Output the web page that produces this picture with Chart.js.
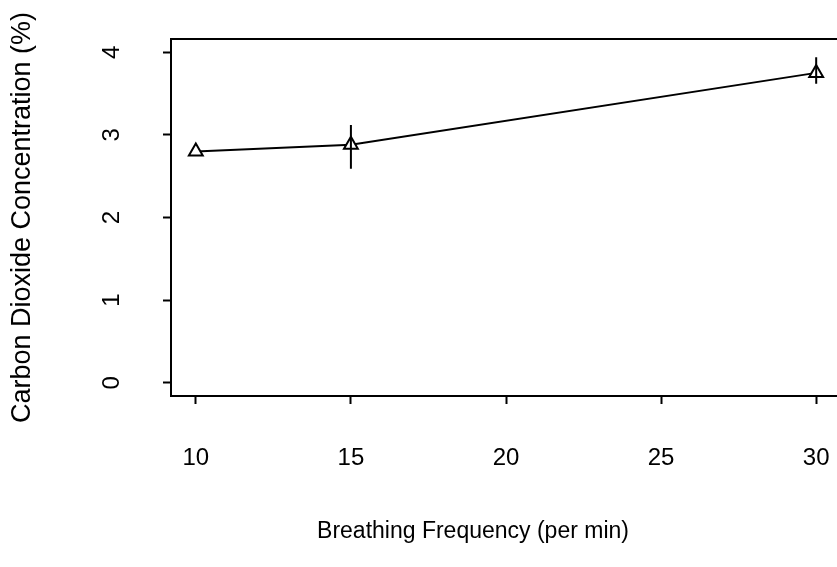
<!DOCTYPE html>
<html>
<head>
<meta charset="utf-8">
<script src="https://cdn.jsdelivr.net/npm/chart.js@4"></script>
<style>
  html, body { margin: 0; padding: 0; background: #fff; overflow: hidden; }
  #wrap { width: 851px; height: 567px; }
</style>
</head>
<body>
<div id="wrap"><canvas id="c" width="851" height="567"></canvas></div>
<script>
// Breathing frequency (per min) and mean CO2 concentration (%)
const frequency = [10, 15, 30];
const co2Mean = [2.80, 2.88, 3.75];
// Spread around each mean (lower / upper ends of the bar)
const co2Low = [2.80, 2.59, 3.62];
const co2High = [2.80, 3.12, 3.94];
const xTicks = [10, 15, 20, 25, 30];
const yTicks = [0, 1, 2, 3, 4];

const xTitle = 'Breathing Frequency (per min)';
const yTitle = 'Carbon Dioxide Concentration (%)';
const FONT = '"Liberation Sans", Arial, Helvetica, sans-serif';

// Keep the plotting box at fixed edges regardless of label sizes
function noScalePadding(s) {
  s.paddingLeft = 0; s.paddingRight = 0; s.paddingTop = 0; s.paddingBottom = 0;
}

// Box around the plotting region plus vertical spread bars and axis titles
const framePlugin = {
  id: 'frame',
  afterDatasetsDraw(chart) {
    const { ctx, chartArea: a, scales: { x, y } } = chart;
    ctx.save();
    ctx.strokeStyle = '#000';
    ctx.lineWidth = 2;
    ctx.strokeRect(a.left, a.top, a.right - a.left, a.bottom - a.top);
    ctx.beginPath();
    for (let i = 0; i < frequency.length; i++) {
      if (co2High[i] === co2Low[i]) continue;
      const px = x.getPixelForValue(frequency[i]);
      ctx.moveTo(px, y.getPixelForValue(co2High[i]));
      ctx.lineTo(px, y.getPixelForValue(co2Low[i]));
    }
    ctx.stroke();
    ctx.restore();
  },
  afterDraw(chart) {
    const { ctx, chartArea: a } = chart;
    ctx.save();
    ctx.fillStyle = '#000';
    ctx.textAlign = 'center';
    ctx.textBaseline = 'middle';
    ctx.font = '23px ' + FONT;
    ctx.fillText(xTitle, 473, 532);
    ctx.font = '27px ' + FONT;
    ctx.translate(23, (a.top + a.bottom) / 2);
    ctx.rotate(-Math.PI / 2);
    ctx.fillText(yTitle, 0, 0);
    ctx.restore();
  }
};

new Chart(document.getElementById('c'), {
  type: 'line',
  data: {
    datasets: [{
      data: frequency.map((f, i) => ({ x: f, y: co2Mean[i] })),
      borderColor: '#000',
      borderWidth: 2,
      tension: 0,
      pointStyle: 'triangle',
      pointRadius: 8,
      pointBackgroundColor: '#fff',
      pointBorderColor: '#000',
      pointBorderWidth: 2
    }]
  },
  options: {
    responsive: false,
    animation: false,
    events: [],
    layout: { padding: { left: 0, top: 39, right: 6, bottom: 0 } },
    plugins: { legend: { display: false }, tooltip: { enabled: false } },
    scales: {
      x: {
        type: 'linear',
        min: 9.2,
        max: 30.8,
        afterBuildTicks(s) { s.ticks = xTicks.map(v => ({ value: v })); },
        afterFit(s) { s.height = 567 - 396; noScalePadding(s); },
        border: { display: false },
        grid: { drawOnChartArea: false, drawTicks: true, tickLength: 8, tickWidth: 2, tickColor: '#000' },
        ticks: { color: '#000', font: { family: FONT, size: 24 }, padding: 40, maxRotation: 0, minRotation: 0 }
      },
      y: {
        type: 'linear',
        min: -0.16,
        max: 4.16,
        afterBuildTicks(s) { s.ticks = yTicks.map(v => ({ value: v })); },
        afterFit(s) { s.width = 171; noScalePadding(s); },
        border: { display: false },
        grid: { drawOnChartArea: false, drawTicks: true, tickLength: 8, tickWidth: 2, tickColor: '#000' },
        ticks: { color: '#000', font: { family: FONT, size: 24 }, padding: 44, minRotation: 90, maxRotation: 90, crossAlign: 'center' }
      }
    }
  },
  plugins: [framePlugin]
});
</script>
</body>
</html>
